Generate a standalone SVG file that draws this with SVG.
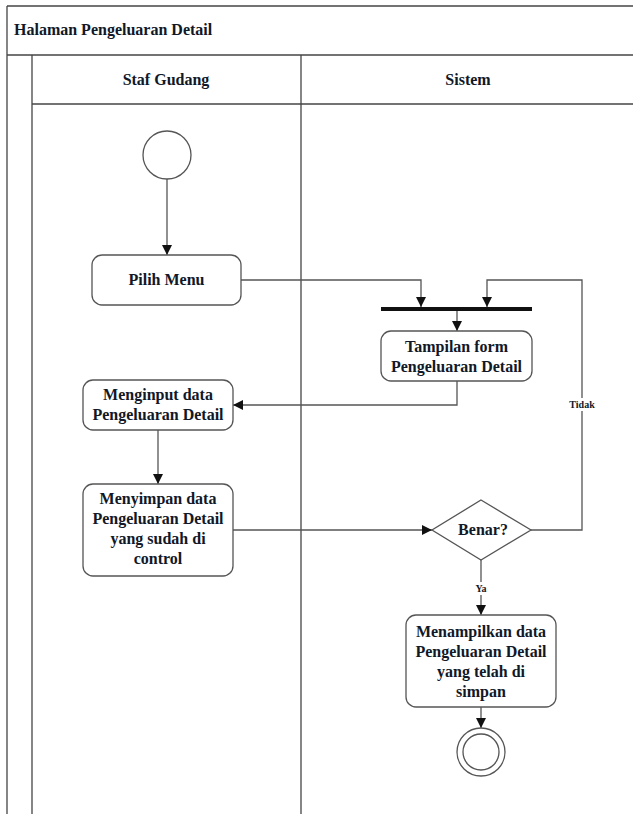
<svg xmlns="http://www.w3.org/2000/svg" width="633" height="814" viewBox="0 0 633 814">
  <style>
    .frame { fill: none; stroke: #444; stroke-width: 1.3; }
    .node { fill: #fff; stroke: #555; stroke-width: 1.3; }
    .lbl { font-weight: 700; font-size: 16px; fill: #111827; text-anchor: middle; }
    .title { font-weight: 700; font-size: 16px; fill: #111827; }
    .small { font-weight: 700; font-size: 10px; fill: #111827; text-anchor: middle; }
    .edge { fill: none; stroke: #555; stroke-width: 1.3; }
  </style>
  <defs>
    <marker id="arrow" viewBox="0 0 10 10" refX="10" refY="5" markerWidth="10" markerHeight="10" markerUnits="userSpaceOnUse" orient="auto">
      <path d="M0,0 L10,5 L0,10 z" fill="#111"/>
    </marker>
  </defs>
  <rect width="633" height="814" fill="#fff"/>

  <g font-family="Liberation Serif, DejaVu Serif, Times New Roman, serif">
  <!-- swimlane frame -->
  <g id="swimlanes">
    <line class="frame" x1="7" y1="6" x2="633" y2="6"/>
    <line class="frame" x1="7" y1="6" x2="7" y2="814"/>
    <line class="frame" x1="7" y1="55" x2="633" y2="55"/>
    <line class="frame" x1="32" y1="55" x2="32" y2="814"/>
    <line class="frame" x1="32" y1="104" x2="633" y2="104"/>
    <line class="frame" x1="301" y1="55" x2="301" y2="814"/>
    <text class="title" x="14" y="35">Halaman Pengeluaran Detail</text>
    <text class="lbl" x="166" y="85">Staf Gudang</text>
    <text class="lbl" x="468" y="85">Sistem</text>
  </g>

  <!-- connectors -->
  <g id="connectors">
    <line class="edge" x1="167" y1="179" x2="167" y2="255" marker-end="url(#arrow)"/>
    <polyline class="edge" points="241,280 421,280 421,307" marker-end="url(#arrow)"/>
    <line class="edge" x1="457" y1="311" x2="457" y2="331" marker-end="url(#arrow)"/>
    <polyline class="edge" points="457,381 457,405 233,405" marker-end="url(#arrow)"/>
    <line class="edge" x1="158" y1="430" x2="158" y2="484" marker-end="url(#arrow)"/>
    <line class="edge" x1="233" y1="530" x2="432" y2="530" marker-end="url(#arrow)"/>
    <polyline class="edge" points="531,530 582,530 582,280 487,280 487,307" marker-end="url(#arrow)"/>
    <line class="edge" x1="481" y1="560" x2="481" y2="615" marker-end="url(#arrow)"/>
    <line class="edge" x1="481" y1="707" x2="481" y2="728" marker-end="url(#arrow)"/>
    <rect x="565" y="398" width="34" height="13" fill="#fff"/>
    <text class="small" x="582" y="408">Tidak</text>
    <rect x="472" y="582" width="18" height="13" fill="#fff"/>
    <text class="small" x="481" y="592">Ya</text>
  </g>

  <g id="start">
    <circle class="node" cx="167" cy="155" r="24"/>
  </g>

  <g id="pilih-menu">
    <rect class="node" x="92" y="255" width="149" height="50" rx="10"/>
    <text class="lbl" x="166.5" y="285">Pilih Menu</text>
  </g>

  <g id="fork">
    <rect x="381" y="307" width="151" height="4" fill="#111"/>
  </g>

  <g id="tampilan-form">
    <rect class="node" x="381" y="331" width="151" height="50" rx="10"/>
    <text class="lbl" x="456.5" y="352">Tampilan form</text>
    <text class="lbl" x="456.5" y="372">Pengeluaran Detail</text>
  </g>

  <g id="menginput">
    <rect class="node" x="83" y="380" width="150" height="50" rx="10"/>
    <text class="lbl" x="158" y="400">Menginput data</text>
    <text class="lbl" x="158" y="420">Pengeluaran Detail</text>
  </g>

  <g id="menyimpan">
    <rect class="node" x="83" y="484" width="150" height="92" rx="10"/>
    <text class="lbl" x="158" y="504">Menyimpan data</text>
    <text class="lbl" x="158" y="524">Pengeluaran Detail</text>
    <text class="lbl" x="158" y="544">yang sudah di</text>
    <text class="lbl" x="158" y="564">control</text>
  </g>

  <g id="decision">
    <polygon class="node" points="481,500 531,530 481,560 432,530"/>
    <text class="lbl" x="483" y="535">Benar?</text>
  </g>

  <g id="menampilkan">
    <rect class="node" x="406" y="615" width="150" height="92" rx="10"/>
    <text class="lbl" x="481" y="637">Menampilkan data</text>
    <text class="lbl" x="481" y="657">Pengeluaran Detail</text>
    <text class="lbl" x="481" y="677">yang telah di</text>
    <text class="lbl" x="481" y="697">simpan</text>
  </g>

  <g id="end">
    <circle class="node" cx="481" cy="752" r="24"/>
    <circle class="node" cx="481" cy="752" r="18"/>
  </g>
  </g>
</svg>
